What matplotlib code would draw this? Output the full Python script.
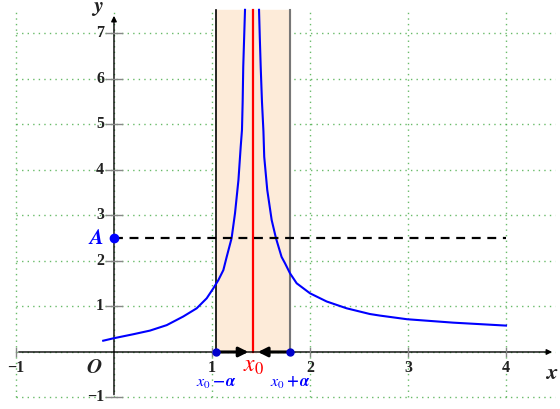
import numpy as np
import matplotlib.pyplot as plt

# curve points
left_x = [-0.11, -0.007, 0.197, 0.367, 0.538, 0.707, 0.844, 0.946, 1.014, 1.065, 1.116,
          1.15, 1.20, 1.235, 1.27, 1.293, 1.306, 1.313, 1.319, 1.328, 1.337]
left_y = [0.248, 0.30, 0.39, 0.47, 0.59, 0.78, 0.96, 1.18, 1.40, 1.58, 1.80,
          2.09, 2.50, 3.05, 3.78, 4.51, 4.88, 5.5, 6.27, 6.9, 7.52]
right_x = [1.480, 1.488, 1.497, 1.51, 1.525, 1.533, 1.564, 1.609, 1.653, 1.71, 1.745, 1.796, 1.864,
           2.0, 2.17, 2.374, 2.61, 2.714, 2.99, 3.46, 4.0]
right_y = [7.52, 6.9, 6.27, 5.5, 4.85, 4.29, 3.56, 2.90, 2.50, 2.09, 1.95, 1.73, 1.51,
           1.29, 1.11, 0.96, 0.835, 0.80, 0.72, 0.645, 0.58]

x0 = 1.42
alpha = 0.38
A = 2.5
xticks = [1, 2, 3, 4]
yticks = [1, 2, 3, 4, 5, 6, 7]

plt.rcParams["mathtext.fontset"] = "stix"
tick_font = dict(family="Liberation Serif", fontweight="bold", fontsize=11.5, color="#222222")

fig = plt.figure(figsize=(5.6, 4.09), dpi=100)
ax = fig.add_axes([0, 0, 1, 1])
ax.set_xlim(-1.163, 4.551)
ax.set_ylim(-1.253, 7.736)
ax.axis("off")

# grid
grid_style = dict(color="#44aa44", linestyle=(0, (1, 3)), linewidth=1.0, alpha=0.8, zorder=1)
for gx in range(-1, 5):
    ax.plot([gx, gx], [-1, 7.5], **grid_style)
for gy in range(-1, 8):
    ax.plot([-1, 4.5], [gy, gy], **grid_style)

# band around x0
top = 7.52
ax.fill_between([x0 - alpha, x0 + alpha], 0, top, color="#fdebd9", zorder=2)
ax.plot([x0 - alpha, x0 - alpha], [0, top], color="black", lw=1.2, zorder=3)
ax.plot([x0 + alpha, x0 + alpha], [0, top], color="#777777", lw=1.5, zorder=3)
ax.plot([x0, x0], [0, top], color="red", lw=1.6, zorder=4)

# axes with arrows
ax.annotate("", xy=(4.5, 0), xytext=(-1.0, 0),
            arrowprops=dict(arrowstyle="-|>", color="black", lw=1.0, mutation_scale=8), zorder=5)
ax.annotate("", xy=(0, 7.45), xytext=(0, -1.0),
            arrowprops=dict(arrowstyle="-|>", color="black", lw=1.0, mutation_scale=8), zorder=5)

for t in [-1] + xticks:
    ax.plot([t, t], [-0.08, 0.08], color="#888888", lw=1.0, zorder=5)
    ax.text(t, -0.17, "−1" if t == -1 else str(t), ha="center", va="top", **tick_font)
for t in [-1] + yticks:
    ax.plot([-0.08, 0.08], [t, t], color="#888888", lw=1.0, zorder=5)
    ax.text(-0.1, t, "−1" if t == -1 else str(t), ha="right", va="center", **tick_font)

ax.text(-0.2, -0.12, r"$\boldsymbol{O}$", ha="center", va="top", fontsize=15, color="#222222")
ax.text(-0.17, 7.55, r"$\boldsymbol{y}$", ha="center", va="center", fontsize=16, color="#222222")
ax.text(4.4, -0.25, r"$\boldsymbol{x}$", ha="left", va="top", fontsize=16, color="#222222")

# curve
ax.plot(left_x, left_y, color="blue", lw=1.5, zorder=6)
ax.plot(right_x, right_y, color="blue", lw=1.5, zorder=6)

# A and dashed line
ax.plot([0, 4], [A, A], color="black", lw=1.6, linestyle=(0, (4, 3)), zorder=6)
ax.plot(0, A, "o", color="blue", ms=6, zorder=7)
ax.text(-0.1, A, r"$\boldsymbol{A}$", color="blue", ha="right", va="center", fontsize=15)

# arrows towards x0
ax.annotate("", xy=(x0 - 0.02, 0), xytext=(x0 - alpha, 0),
            arrowprops=dict(arrowstyle="-|>", color="black", lw=2.2, mutation_scale=14), zorder=8)
ax.annotate("", xy=(x0 + 0.02, 0), xytext=(x0 + alpha, 0),
            arrowprops=dict(arrowstyle="-|>", color="black", lw=2.2, mutation_scale=14), zorder=8)
ax.plot([x0 - alpha, x0 + alpha], [0, 0], "o", color="#0000cc", ms=5, zorder=9)

ax.text(x0, -0.29, r"$x_0$", color="red", ha="center", va="center", fontsize=17)
ax.text(x0 - alpha, -0.7, r"$\boldsymbol{x_0 - \alpha}$", color="blue", ha="center", va="center", fontsize=11.5)
ax.text(x0 + alpha, -0.7, r"$\boldsymbol{x_0 + \alpha}$", color="blue", ha="center", va="center", fontsize=11.5)

fig.savefig("out.png", dpi=100)
